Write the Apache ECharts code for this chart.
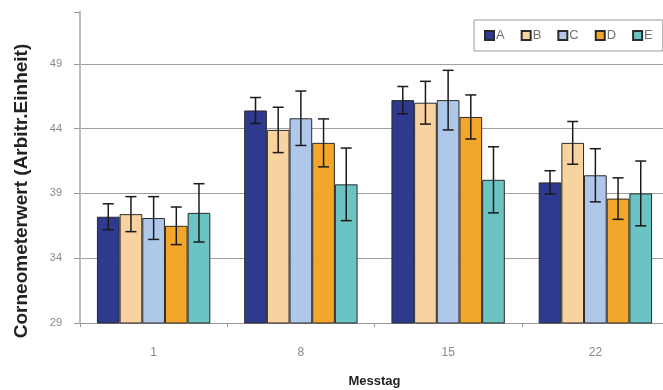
<!DOCTYPE html>
<html>
<head>
<meta charset="utf-8">
<script src="https://cdn.jsdelivr.net/npm/echarts@6/dist/echarts.min.js"></script>
<style>html,body{margin:0;padding:0;background:#fff}#c{width:663px;height:390px}</style>
</head>
<body>
<div id="c"></div>
<script>
const categories = ['1', '8', '15', '22'];
const seriesNames = ['A', 'B', 'C', 'D', 'E'];
const valuesA = [37.2, 45.4, 46.2, 39.85];
const valuesB = [37.4, 43.9, 46.0, 42.9];
const valuesC = [37.1, 44.8, 46.2, 40.4];
const valuesD = [36.5, 42.9, 44.9, 38.6];
const valuesE = [37.5, 39.7, 40.05, 39.0];
const errA = [1.0, 1.0, 1.05, 0.9];
const errB = [1.35, 1.75, 1.65, 1.65];
const errC = [1.65, 2.1, 2.3, 2.05];
const errD = [1.45, 1.85, 1.7, 1.6];
const errE = [2.25, 2.8, 2.55, 2.5];
const yTicks = [29, 34, 39, 44, 49];

const values = [valuesA, valuesB, valuesC, valuesD, valuesE];
const errs = [errA, errB, errC, errD, errE];
const colors = ['#2E3A8E', '#F8D3A0', '#AFC8EA', '#F2A62A', '#6CC3C3'];
const catGap = 0.23;

const chart = echarts.init(document.getElementById('c'));
const series = [];
seriesNames.forEach((name, i) => {
  series.push({
    name: name,
    type: 'bar',
    data: values[i],
    barGap: '0%',
    barCategoryGap: (catGap * 100) + '%',
    itemStyle: { color: colors[i], borderColor: '#2a2a2a', borderWidth: 1 },
    emphasis: { disabled: true },
    z: 2
  });
});
seriesNames.forEach((name, i) => {
  series.push({
    type: 'custom',
    name: name + '_err',
    data: values[i].map((v, k) => [k, v - errs[i][k], v + errs[i][k]]),
    z: 5,
    silent: true,
    renderItem: function (params, api) {
      const k = api.value(0);
      const lo = api.coord([k, api.value(1)]);
      const hi = api.coord([k, api.value(2)]);
      const band = api.size([1, 0])[0];
      const bw = band * (1 - catGap) / 5;
      const x = lo[0] + (i - 2) * bw;
      const cap = 5.5;
      const st = { stroke: '#1a1a1a', lineWidth: 1.5, fill: null };
      return {
        type: 'group',
        children: [
          { type: 'line', shape: { x1: x, y1: lo[1], x2: x, y2: hi[1] }, style: st },
          { type: 'line', shape: { x1: x - cap, y1: hi[1], x2: x + cap, y2: hi[1] }, style: st },
          { type: 'line', shape: { x1: x - cap, y1: lo[1], x2: x + cap, y2: lo[1] }, style: st }
        ]
      };
    }
  });
});

chart.setOption({
  animation: false,
  backgroundColor: '#fff',
  textStyle: { fontFamily: 'Liberation Sans, Arial, sans-serif' },
  grid: { left: 80, top: 12, width: 589, height: 311, containLabel: false, outerBoundsMode: 'none' },
  legend: {
    data: seriesNames,
    left: 474,
    top: 20,
    itemWidth: 9,
    itemHeight: 9,
    itemGap: 16,
    icon: 'rect',
    padding: [9, 10, 9, 10],
    borderColor: '#9a9a9a',
    borderWidth: 1,
    backgroundColor: '#fff',
    textStyle: { color: '#707070', fontSize: 13, padding: [0, 0, 0, -3] },
    selectedMode: false
  },
  xAxis: {
    type: 'category',
    data: categories,
    name: 'Messtag',
    nameLocation: 'middle',
    nameGap: 52,
    nameTextStyle: { color: '#222', fontSize: 13, fontWeight: 'bold' },
    axisLine: { lineStyle: { color: '#999', width: 1 } },
    axisTick: { show: true, length: 4, lineStyle: { color: '#999' } },
    axisLabel: { color: '#8a8a8a', fontSize: 12, margin: 24 }
  },
  yAxis: {
    type: 'value',
    min: 29,
    max: 53,
    interval: 5,
    axisLine: { show: true, lineStyle: { color: '#bdbdbd', width: 2 } },
    axisTick: { show: true, length: 6, lineStyle: { color: '#999' } },
    axisLabel: {
      color: '#8a8a8a', fontSize: 11, margin: 18,
      formatter: v => (yTicks.indexOf(v) >= 0 ? String(v) : '')
    },
    splitLine: { show: true, showMaxLine: false, lineStyle: { color: '#a0a0a0', width: 1 } }
  },
  graphic: [{
    type: 'text',
    x: 22,
    y: 191,
    rotation: Math.PI / 2,
    style: {
      text: 'Corneometerwert (Arbitr.Einheit)',
      fontSize: 19,
      fontWeight: 'bold',
      fontFamily: 'Liberation Sans, Arial, sans-serif',
      fill: '#222',
      align: 'center',
      verticalAlign: 'middle'
    }
  }],
  series: series
});
</script>
</body>
</html>
